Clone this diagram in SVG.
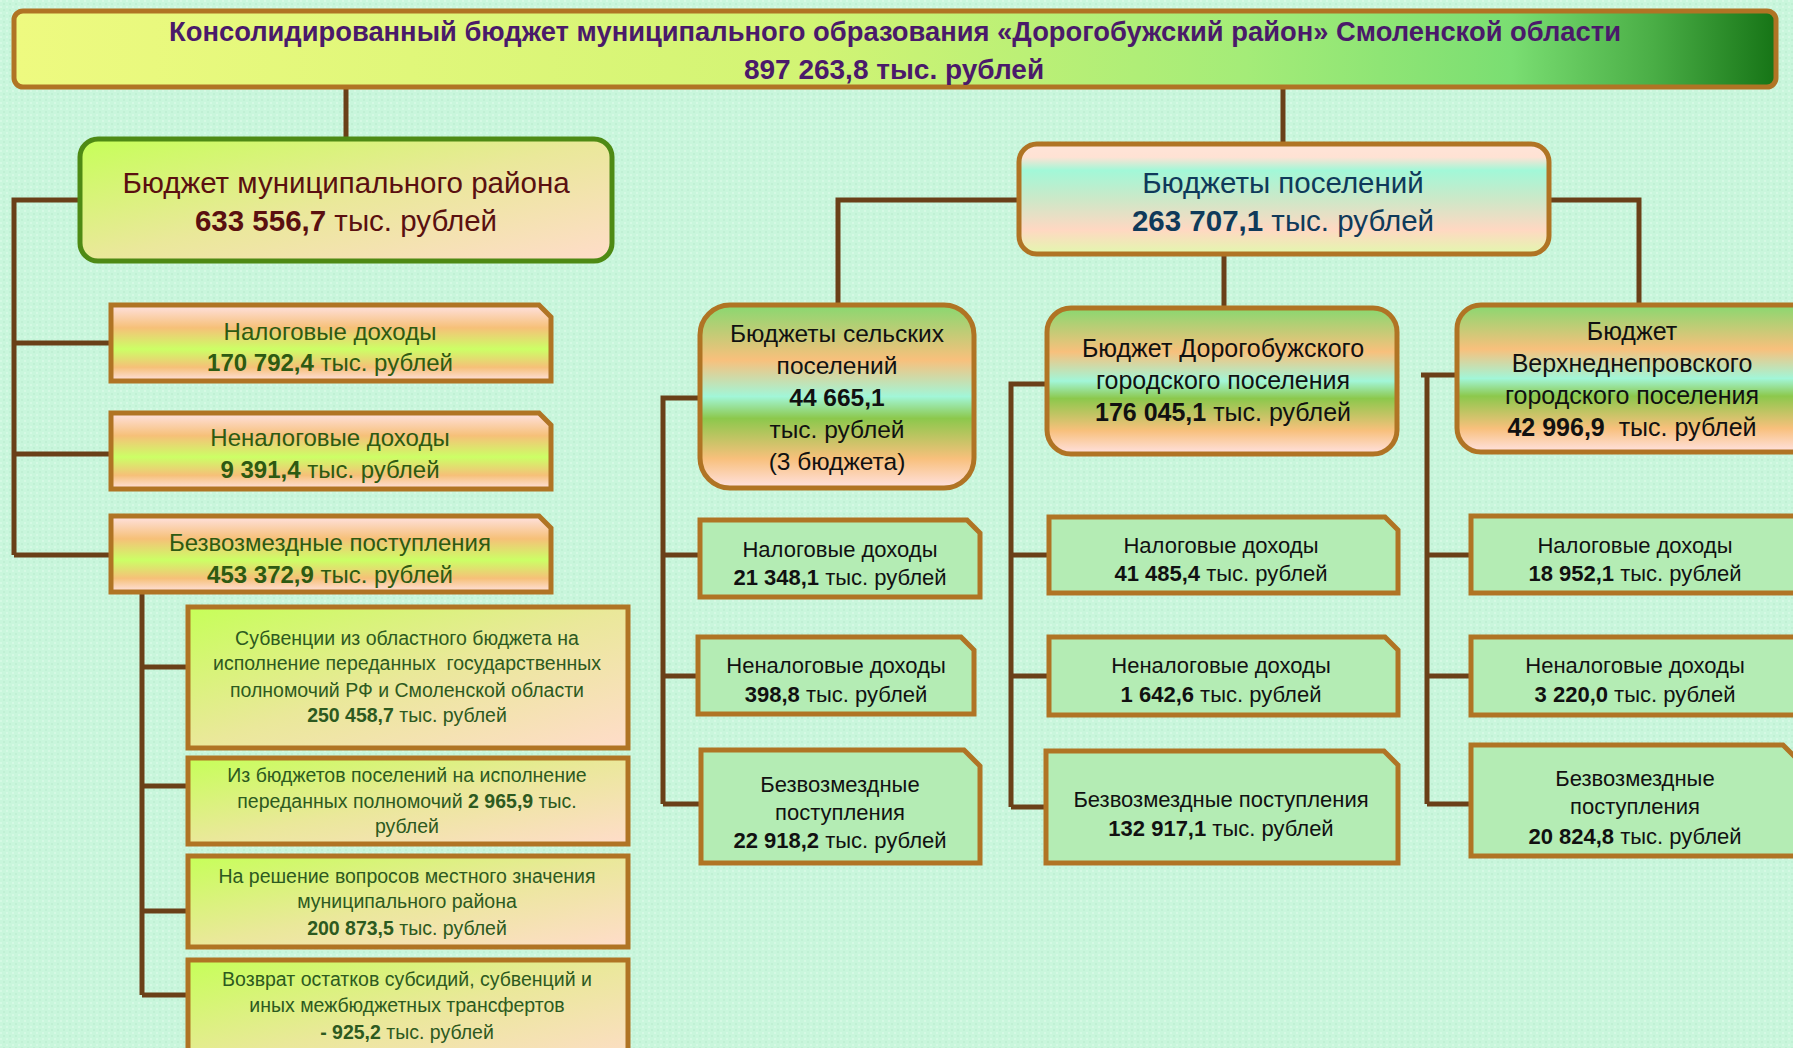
<svg xmlns="http://www.w3.org/2000/svg" width="1793" height="1048" viewBox="0 0 1793 1048">
<defs>
<pattern id="tex" width="6" height="6" patternUnits="userSpaceOnUse">
<rect width="6" height="6" fill="#C9F6DC"/>
<rect x="0" y="0" width="2" height="2" fill="#D5F9E4"/>
<rect x="3" y="3" width="2" height="2" fill="#C0F0D4"/>
</pattern>
<linearGradient id="gTitle" x1="0" y1="0" x2="1" y2="0">
<stop offset="0" stop-color="#EEFA80"/>
<stop offset="0.45" stop-color="#D2F474"/>
<stop offset="0.7" stop-color="#A4EC78"/>
<stop offset="0.85" stop-color="#7ADE72"/>
<stop offset="0.93" stop-color="#4AAE46"/>
<stop offset="1" stop-color="#167416"/>
</linearGradient>
<linearGradient id="gDiag" x1="0" y1="0" x2="1" y2="1">
<stop offset="0" stop-color="#C6FF58"/>
<stop offset="0.5" stop-color="#EAE89A"/>
<stop offset="1" stop-color="#FFDCCA"/>
</linearGradient>
<linearGradient id="gSettl" x1="0" y1="0" x2="0" y2="1">
<stop offset="0" stop-color="#FFE4D8"/>
<stop offset="0.12" stop-color="#FFE2D4"/>
<stop offset="0.24" stop-color="#A2F8D8"/>
<stop offset="0.5" stop-color="#CCE8C8"/>
<stop offset="0.78" stop-color="#FFD8C2"/>
<stop offset="1" stop-color="#E2F8AE"/>
</linearGradient>
<linearGradient id="gStripe" x1="0" y1="0" x2="0" y2="1">
<stop offset="0" stop-color="#FFE2E2"/>
<stop offset="0.3" stop-color="#F6C078"/>
<stop offset="0.58" stop-color="#CCFF66"/>
<stop offset="0.82" stop-color="#F6C078"/>
<stop offset="1" stop-color="#FFE2E2"/>
</linearGradient>
<linearGradient id="gSet" x1="0" y1="0" x2="0" y2="1">
<stop offset="0" stop-color="#88D870"/>
<stop offset="0.3" stop-color="#F8C07C"/>
<stop offset="0.5" stop-color="#A2F6D8"/>
<stop offset="0.62" stop-color="#8CC84C"/>
<stop offset="0.84" stop-color="#F8C07C"/>
<stop offset="1" stop-color="#FFE2E2"/>
</linearGradient>
<style>
text{font-family:"Liberation Sans",Arial,sans-serif;text-anchor:middle}
.box{stroke:#B07424;stroke-width:5}
.conn{fill:none;stroke:#6A4018;stroke-width:5}
.b{font-weight:bold}
.title{font-size:28px;font-weight:bold;fill:#4A1A6A}
.dist{font-size:29.5px;fill:#5A1010}
.setl{font-size:29.5px;fill:#0F3A5A}
.lc{font-size:24px;fill:#2D5A12}
.sub{font-size:19.5px;fill:#2D5A20}
.hd{font-size:24.5px;fill:#111}
.dh{font-size:25px;fill:#111}
.ch{font-size:22px;fill:#111}
.vh{font-size:25px;fill:#111}
.green{fill:#B4ECB4}
</style>
</defs>
<rect width="1793" height="1048" fill="url(#tex)"/>

<g id="connectors">
<path class="conn" d="M346,87 V139"/>
<path class="conn" d="M1283,87 V144"/>
<path class="conn" d="M80,200 H14 V555 M14,343 H111 M14,454 H111 M14,555 H111"/>
<path class="conn" d="M142,592 V995 M142,667 H188 M142,786 H188 M142,911 H188 M142,995 H188"/>
<path class="conn" d="M1019,200 H838 V305"/>
<path class="conn" d="M1549,200 H1639 V305"/>
<path class="conn" d="M1224,254 V308"/>
<path class="conn" d="M700,398 H663 V804 M663,555 H700 M663,676 H698 M663,804 H701"/>
<path class="conn" d="M1047,384 H1011 V807 M1011,555 H1049 M1011,676 H1049 M1011,807 H1046"/>
<path class="conn" d="M1457,375 H1421 M1427,375 V804 M1427,555 H1471 M1427,676 H1471 M1427,804 H1471"/>
</g>

<g id="title">
<rect class="box" x="14" y="11" width="1762" height="76" rx="9" fill="url(#gTitle)"/>
<text class="title" x="895" y="41" textLength="1452" lengthAdjust="spacingAndGlyphs">Консолидированный бюджет муниципального образования «Дорогобужский район» Смоленской области</text>
<text class="title" x="894" y="79">897 263,8 тыс. рублей</text>
</g>

<g id="district">
<rect x="80" y="139" width="532" height="122" rx="18" fill="url(#gDiag)" stroke="#4E8A14" stroke-width="5"/>
<text class="dist" x="346" y="193">Бюджет муниципального района</text>
<text class="dist" x="346" y="231"><tspan class="b">633 556,7</tspan> тыс. рублей</text>
</g>

<g id="settlements">
<rect class="box" x="1019" y="144" width="530" height="110" rx="18" fill="url(#gSettl)"/>
<text class="setl" x="1283" y="193">Бюджеты поселений</text>
<text class="setl" x="1283" y="231"><tspan class="b">263 707,1</tspan> тыс. рублей</text>
</g>

<g id="district-tax">
<path class="box" d="M111,305 H539 L551,317 V381 H111 Z" fill="url(#gStripe)"/>
<text class="lc" x="330" y="340">Налоговые доходы</text>
<text class="lc" x="330" y="371"><tspan class="b">170 792,4</tspan> тыс. рублей</text>
</g>
<g id="district-nontax">
<path class="box" d="M111,413 H539 L551,425 V489 H111 Z" fill="url(#gStripe)"/>
<text class="lc" x="330" y="446">Неналоговые доходы</text>
<text class="lc" x="330" y="478"><tspan class="b">9 391,4</tspan> тыс. рублей</text>
</g>
<g id="district-free">
<path class="box" d="M111,516 H539 L551,528 V592 H111 Z" fill="url(#gStripe)"/>
<text class="lc" x="330" y="551">Безвозмездные поступления</text>
<text class="lc" x="330" y="583"><tspan class="b">453 372,9</tspan> тыс. рублей</text>
</g>

<g id="sub1">
<rect class="box" x="188" y="607" width="440" height="141" fill="url(#gDiag)"/>
<text class="sub" x="407" y="645">Субвенции из областного бюджета на</text>
<text class="sub" x="407" y="670">исполнение переданных&#160; государственных</text>
<text class="sub" x="407" y="697">полномочий РФ и Смоленской области</text>
<text class="sub" x="407" y="722"><tspan class="b">250 458,7</tspan> тыс. рублей</text>
</g>
<g id="sub2">
<rect class="box" x="188" y="758" width="440" height="86" fill="url(#gDiag)"/>
<text class="sub" x="407" y="782">Из бюджетов поселений на исполнение</text>
<text class="sub" x="407" y="808">переданных полномочий <tspan class="b">2 965,9</tspan> тыс.</text>
<text class="sub" x="407" y="833">рублей</text>
</g>
<g id="sub3">
<rect class="box" x="188" y="856" width="440" height="91" fill="url(#gDiag)"/>
<text class="sub" x="407" y="883">На решение вопросов местного значения</text>
<text class="sub" x="407" y="908">муниципального района</text>
<text class="sub" x="407" y="935"><tspan class="b">200 873,5</tspan> тыс. рублей</text>
</g>
<g id="sub4">
<rect class="box" x="188" y="960" width="440" height="110" fill="url(#gDiag)"/>
<text class="sub" x="407" y="986">Возврат остатков субсидий, субвенций и</text>
<text class="sub" x="407" y="1012">иных межбюджетных трансфертов</text>
<text class="sub" x="407" y="1039"><tspan class="b">- 925,2</tspan> тыс. рублей</text>
</g>

<g id="rural">
<rect class="box" x="700" y="305" width="274" height="183" rx="30" fill="url(#gSet)"/>
<text class="hd" x="837" y="342">Бюджеты сельских</text>
<text class="hd" x="837" y="374">поселений</text>
<text class="hd b" x="837" y="406">44 665,1</text>
<text class="hd" x="837" y="438">тыс. рублей</text>
<text class="hd" x="837" y="470">(3 бюджета)</text>
</g>
<g id="dorog">
<rect class="box" x="1047" y="308" width="350" height="146" rx="24" fill="url(#gSet)"/>
<text class="dh" x="1223" y="357">Бюджет Дорогобужского</text>
<text class="dh" x="1223" y="389">городского поселения</text>
<text class="dh" x="1223" y="421"><tspan class="b">176 045,1</tspan> тыс. рублей</text>
</g>
<g id="verkh">
<rect class="box" x="1457" y="305" width="360" height="147" rx="24" fill="url(#gSet)"/>
<text class="vh" x="1632" y="340">Бюджет</text>
<text class="vh" x="1632" y="372">Верхнеднепровского</text>
<text class="vh" x="1632" y="404">городского поселения</text>
<text class="vh" x="1632" y="436"><tspan class="b">42 996,9</tspan>&#160; тыс. рублей</text>
</g>

<g id="rural-tax">
<path class="box green" d="M700,520 H967 L980,533 V597 H700 Z"/>
<text class="ch" x="840" y="557">Налоговые доходы</text>
<text class="ch" x="840" y="585"><tspan class="b">21 348,1</tspan> тыс. рублей</text>
</g>
<g id="rural-nontax">
<path class="box green" d="M698,637 H961 L974,650 V714 H698 Z"/>
<text class="ch" x="836" y="673">Неналоговые доходы</text>
<text class="ch" x="836" y="702"><tspan class="b">398,8</tspan> тыс. рублей</text>
</g>
<g id="rural-free">
<path class="box green" d="M701,750 H964 L980,766 V863 H701 Z"/>
<text class="ch" x="840" y="792">Безвозмездные</text>
<text class="ch" x="840" y="820">поступления</text>
<text class="ch" x="840" y="848"><tspan class="b">22 918,2</tspan> тыс. рублей</text>
</g>

<g id="dorog-tax">
<path class="box green" d="M1049,517 H1385 L1398,530 V593 H1049 Z"/>
<text class="ch" x="1221" y="553">Налоговые доходы</text>
<text class="ch" x="1221" y="581"><tspan class="b">41 485,4</tspan> тыс. рублей</text>
</g>
<g id="dorog-nontax">
<path class="box green" d="M1049,637 H1385 L1398,650 V715 H1049 Z"/>
<text class="ch" x="1221" y="673">Неналоговые доходы</text>
<text class="ch" x="1221" y="702"><tspan class="b">1 642,6</tspan> тыс. рублей</text>
</g>
<g id="dorog-free">
<path class="box green" d="M1046,751 H1384 L1398,765 V863 H1046 Z"/>
<text class="ch" x="1221" y="807">Безвозмездные поступления</text>
<text class="ch" x="1221" y="836"><tspan class="b">132 917,1</tspan> тыс. рублей</text>
</g>

<g id="verkh-tax">
<rect class="box green" x="1471" y="516" width="340" height="77"/>
<text class="ch" x="1635" y="553">Налоговые доходы</text>
<text class="ch" x="1635" y="581"><tspan class="b">18 952,1</tspan> тыс. рублей</text>
</g>
<g id="verkh-nontax">
<rect class="box green" x="1471" y="637" width="340" height="78"/>
<text class="ch" x="1635" y="673">Неналоговые доходы</text>
<text class="ch" x="1635" y="702"><tspan class="b">3 220,0</tspan> тыс. рублей</text>
</g>
<g id="verkh-free">
<path class="box green" d="M1471,745 H1783 L1799,761 V856 H1471 Z"/>
<text class="ch" x="1635" y="786">Безвозмездные</text>
<text class="ch" x="1635" y="814">поступления</text>
<text class="ch" x="1635" y="844"><tspan class="b">20 824,8</tspan> тыс. рублей</text>
</g>
</svg>
